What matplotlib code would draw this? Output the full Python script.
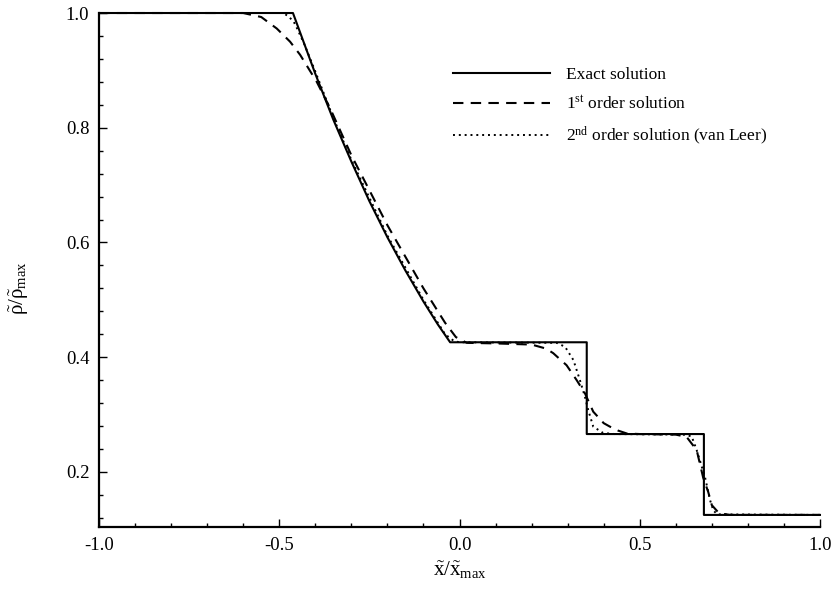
import matplotlib
matplotlib.use("Agg")
import matplotlib.pyplot as plt
from matplotlib.ticker import MultipleLocator

# exact Riemann solution (density)
x_exact = [-1.0, -0.462, -0.40, -0.35, -0.30, -0.25, -0.20, -0.15, -0.10, -0.06, -0.026,
           0.353, 0.353, 0.678, 0.678, 1.0]
rho_exact = [1.0, 1.0, 0.894, 0.814, 0.741, 0.672, 0.609, 0.551, 0.497, 0.457, 0.426,
             0.426, 0.266, 0.266, 0.125, 0.125]

# 1st order solution
x_first = [-1.0, -0.60, -0.55, -0.507, -0.47, -0.442, -0.396, -0.359, -0.30, -0.20, -0.10,
           -0.04, -0.01, 0.02, 0.10, 0.20, 0.24, 0.26, 0.297, 0.325, 0.348, 0.371, 0.40,
           0.417, 0.44, 0.464, 0.50, 0.60, 0.63, 0.658, 0.676, 0.69, 0.70, 0.72, 0.75, 1.0]
rho_first = [1.0, 1.0, 0.993, 0.973, 0.950, 0.927, 0.880, 0.834, 0.752, 0.630, 0.520,
             0.460, 0.435, 0.425, 0.424, 0.422, 0.415, 0.407, 0.386, 0.360, 0.337, 0.305, 0.285,
             0.279, 0.272, 0.267, 0.266, 0.265, 0.261, 0.238, 0.190, 0.165, 0.142, 0.128, 0.125, 0.125]

# 2nd order solution (van Leer)
x_second = [-1.0, -0.49, -0.476, -0.46, -0.452, -0.43, -0.40, -0.35, -0.30, -0.20, -0.10,
            -0.04, -0.015, 0.0, 0.27, 0.293, 0.316, 0.334, 0.348, 0.357, 0.371, 0.398, 0.43,
            0.62, 0.644, 0.658, 0.681, 0.695, 0.704, 0.715, 1.0]
rho_second = [1.0, 1.0, 0.995, 0.985, 0.975, 0.945, 0.898, 0.817, 0.744, 0.612, 0.500,
              0.440, 0.428, 0.426, 0.425, 0.418, 0.395, 0.360, 0.331, 0.308, 0.279, 0.268, 0.266,
              0.265, 0.262, 0.238, 0.191, 0.151, 0.133, 0.126, 0.125]

x_ticks = [-1.0, -0.5, 0.0, 0.5, 1.0]
y_ticks = [0.2, 0.4, 0.6, 0.8, 1.0]

plt.rcParams["font.family"] = ["Liberation Serif", "DejaVu Serif"]
plt.rcParams["mathtext.fontset"] = "custom"
plt.rcParams["mathtext.rm"] = "Liberation Serif"
plt.rcParams["mathtext.it"] = "Liberation Serif:italic"

fig = plt.figure(figsize=(8.35, 5.97), dpi=100)
ax = fig.add_axes([0.1186, 0.1173, 0.8634, 0.8609])

ax.plot(x_exact, rho_exact, color="black", lw=1.5, ls="-", label="Exact solution",
        clip_on=False)
ax.plot(x_first, rho_first, color="black", lw=1.5, ls=(0, (5, 3.5)),
        label=r"1$^{\mathrm{st}}$ order solution", clip_on=False)
ax.plot(x_second, rho_second, color="black", lw=1.4, ls=(0, (1, 2)),
        label=r"2$^{\mathrm{nd}}$ order solution (van Leer)", clip_on=False)

ax.set_xlim(-1.0, 1.0)
ax.set_ylim(0.104, 1.0)
ax.set_xticks(x_ticks)
ax.set_xticklabels([f"{v:.1f}" for v in x_ticks])
ax.set_yticks(y_ticks)
ax.set_yticklabels([f"{v:.1f}" for v in y_ticks])
ax.xaxis.set_minor_locator(MultipleLocator(0.1))
ax.yaxis.set_minor_locator(MultipleLocator(0.04))
ax.tick_params(which="both", direction="in", labelsize=13.5, width=1.0)
ax.tick_params(which="major", length=6, pad=7)
ax.tick_params(which="minor", length=3)

for side in ("top", "right"):
    ax.spines[side].set_visible(False)
for side in ("left", "bottom"):
    ax.spines[side].set_linewidth(1.6)

ax.set_xlabel(r"$\tilde{\mathrm{x}}/\tilde{\mathrm{x}}_{\mathrm{max}}$", fontsize=15, labelpad=4)
ax.set_ylabel(r"$\tilde{\mathrm{\rho}}/\tilde{\mathrm{\rho}}_{\mathrm{max}}$", fontsize=15)
ax.yaxis.set_label_coords(-0.095, 0.465)

ax.legend(loc="upper left", bbox_to_anchor=(0.469, 0.925), frameon=False, fontsize=12.5,
          handlelength=5.6, handletextpad=0.9, labelspacing=0.68)

fig.savefig("out.png", dpi=100)
